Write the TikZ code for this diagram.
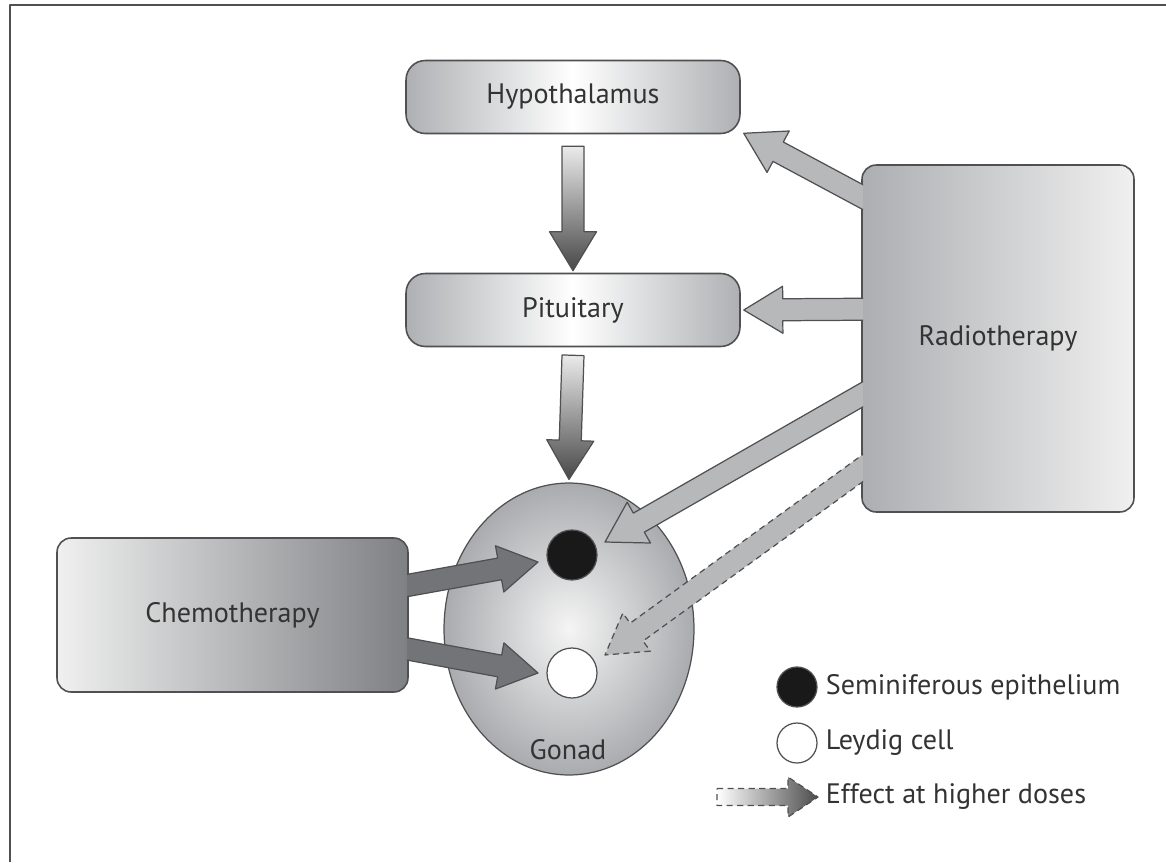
\documentclass[tikz,border=0pt]{standalone}
\usepackage{fontspec}
\setmainfont{PT Sans}
\usetikzlibrary{calc,shapes.geometric}
\definecolor{boxline}{HTML}{505052}
\definecolor{labelgrey}{HTML}{333333}
\definecolor{boxgrey}{HTML}{AEB0B3}
\definecolor{radgrey}{HTML}{ACAEB1}
\definecolor{radlight}{HTML}{F0F0F0}
\definecolor{chemodark}{HTML}{7E8083}
\definecolor{beamgrey}{HTML}{B7B8BA}
\definecolor{drugsgrey}{HTML}{737477}
\definecolor{gonadgrey}{HTML}{A9ABAE}

\newcommand{\shaftw}{0.22cm}
\newcommand{\headw}{0.47cm}
\newcommand{\headlen}{0.78cm}
% block arrow: [closing]{fill}{outline}{tail}{tip}
\newcommand{\blockarrow}[5][]{%
  \coordinate (ba-n) at ($(#5)!\headlen!(#4)$);
  \path[#2] ($(#4)!\shaftw!90:(#5)$) -- ($(ba-n)!\shaftw!90:(#5)$) -- ($(ba-n)!\headw!90:(#5)$) -- (#5)
    -- ($(ba-n)!\headw!-90:(#5)$) -- ($(ba-n)!\shaftw!-90:(#5)$) -- ($(#4)!\shaftw!-90:(#5)$) -- cycle;
  \draw[#3] ($(#4)!\shaftw!90:(#5)$) -- ($(ba-n)!\shaftw!90:(#5)$) -- ($(ba-n)!\headw!90:(#5)$) -- (#5)
    -- ($(ba-n)!\headw!-90:(#5)$) -- ($(ba-n)!\shaftw!-90:(#5)$) -- ($(#4)!\shaftw!-90:(#5)$) #1;
}

\begin{document}
\begin{tikzpicture}[x=0.02cm,y=-0.02cm,line join=round,
  font=\fontsize{16}{19}\selectfont,
  organ/.style={draw=boxline,line width=0.9pt,rounded corners=11pt,minimum width=6.68cm,minimum height=1.46cm,
    left color=boxgrey,right color=boxgrey,middle color=white,text=labelgrey},
  radbox/.style={draw=boxline,line width=0.9pt,rounded corners=8pt,minimum width=5.44cm,minimum height=6.94cm,
    left color=radgrey,right color=radlight,text=labelgrey},
  chemobox/.style={draw=boxline,line width=0.9pt,rounded corners=8pt,minimum width=7.02cm,minimum height=3.08cm,
    left color=radlight,right color=chemodark,text=labelgrey},
  gonadshape/.style={ellipse,draw=boxline,line width=0.7pt,minimum width=5cm,minimum height=5.84cm,inner sep=0pt,
    inner color=white!96!black,outer color=gonadgrey},
  cell/.style={circle,draw=boxline,line width=0.7pt,minimum size=1cm,inner sep=0pt},
  keytext/.style={anchor=west,text=labelgrey,inner sep=2pt},
  beam/.style={fill=beamgrey},
  outline/.style={draw=boxline,line width=0.7pt}]
\useasboundingbox (0,0) rectangle (1166,862);
\draw[boxline,line width=1.2pt] (10,862) -- (10,5) -- (1166,5);

% organs and treatments
\node[organ] (hyp) at (573,97) {Hypothalamus};
\node[organ] (pit) at (573,310) {Pituitary};
\node[radbox] (rad) at (998,338.5) {Radiotherapy};
\node[chemobox] (chemo) at (232.5,615) {Chemotherapy};
\node[gonadshape] (gonad) at (569,629) {};
\node[cell,fill=black!90] (sem) at (572,555) {};
\node[cell,fill=white] (ley) at (572,673) {};
\node[text=labelgrey] (gonadlbl) at (568,750) {Gonad};

% axis arrows
\coordinate (hp-s) at ($(hyp.south)+(0,12)$);
\coordinate (hp-t) at ($(pit.north)+(0,-2)$);
\coordinate (pg-s) at ($(pit.south)+(0,8)$);
\coordinate (pg-t) at ($(gonad.north)+(0,-3)$);
\blockarrow[-- cycle]{top color=white!92!black,bottom color=black!72}{outline}{hp-s}{hp-t}
\blockarrow[-- cycle]{top color=white!92!black,bottom color=black!72}{outline}{pg-s}{pg-t}

% radiotherapy arrows
\coordinate (r1e) at ($(rad.north west)+(0,32)$);
\coordinate (r2e) at ($(rad.north west)+(0,145)$);
\coordinate (r3e) at ($(rad.north west)+(0,231)$);
\coordinate (r4e) at ($(rad.north west)+(0,305)$);
\coordinate (r1t) at ($(hyp.south east)+(3,-1)$);
\coordinate (r2t) at ($(pit.east)+(3,0)$);
\coordinate (r3t) at ($(sem)+(33,-13)$);
\coordinate (r4t) at ($(ley)+(33,-18)$);
\foreach \i in {1,2,3,4} {\coordinate (r\i s) at ($(r\i t)!1.15!(r\i e)$);}
\coordinate (radcut) at ($(rad.west)+(2,0)$);
\coordinate (pagebot) at (0,862);
\begin{scope}
\clip (0,0) rectangle (radcut |- pagebot);
\blockarrow{beam}{outline}{r1s}{r1t}
\blockarrow{beam}{outline}{r2s}{r2t}
\blockarrow{beam}{outline}{r3s}{r3t}
\blockarrow{beam}{outline,dash pattern=on 3.5pt off 2.5pt}{r4s}{r4t}
\end{scope}

% chemotherapy arrows
\coordinate (c1e) at ($(chemo.north east)+(0,48)$);
\coordinate (c2e) at ($(chemo.north east)+(0,112)$);
\coordinate (c1t) at ($(sem)+(-34,7)$);
\coordinate (c2t) at ($(ley)+(-34,0)$);
\foreach \i in {1,2} {\coordinate (c\i s) at ($(c\i t)!1.15!(c\i e)$);}
\coordinate (chemocut) at ($(chemo.east)+(-2,0)$);
\coordinate (pagetop) at (0,0);
\begin{scope}
\clip (chemocut |- pagetop) rectangle (1166,862);
\blockarrow{fill=drugsgrey}{outline}{c1s}{c1t}
\blockarrow{fill=drugsgrey}{outline}{c2s}{c2t}
\end{scope}

% key
\node[cell,fill=black!90,minimum size=0.8cm] (semkey) at (797,687) {};
\node[keytext] (semtxt) at (822,687) {Seminiferous epithelium};
\node[cell,fill=white,minimum size=0.8cm] (leykey) at (797,743) {};
\node[keytext] (leytxt) at (822,743) {Leydig cell};
\coordinate (key-s) at (717,797);
\coordinate (key-t) at (818,797);
\begin{scope}
\renewcommand{\shaftw}{0.17cm}
\renewcommand{\headw}{0.4cm}
\renewcommand{\headlen}{0.6cm}
\blockarrow[-- cycle]{left color=white,right color=black!70}{outline,dash pattern=on 3.5pt off 2.5pt}{key-s}{key-t}
\end{scope}
\node[keytext] (keytxt) at (822,797) {Effect at higher doses};
\end{tikzpicture}
\end{document}
